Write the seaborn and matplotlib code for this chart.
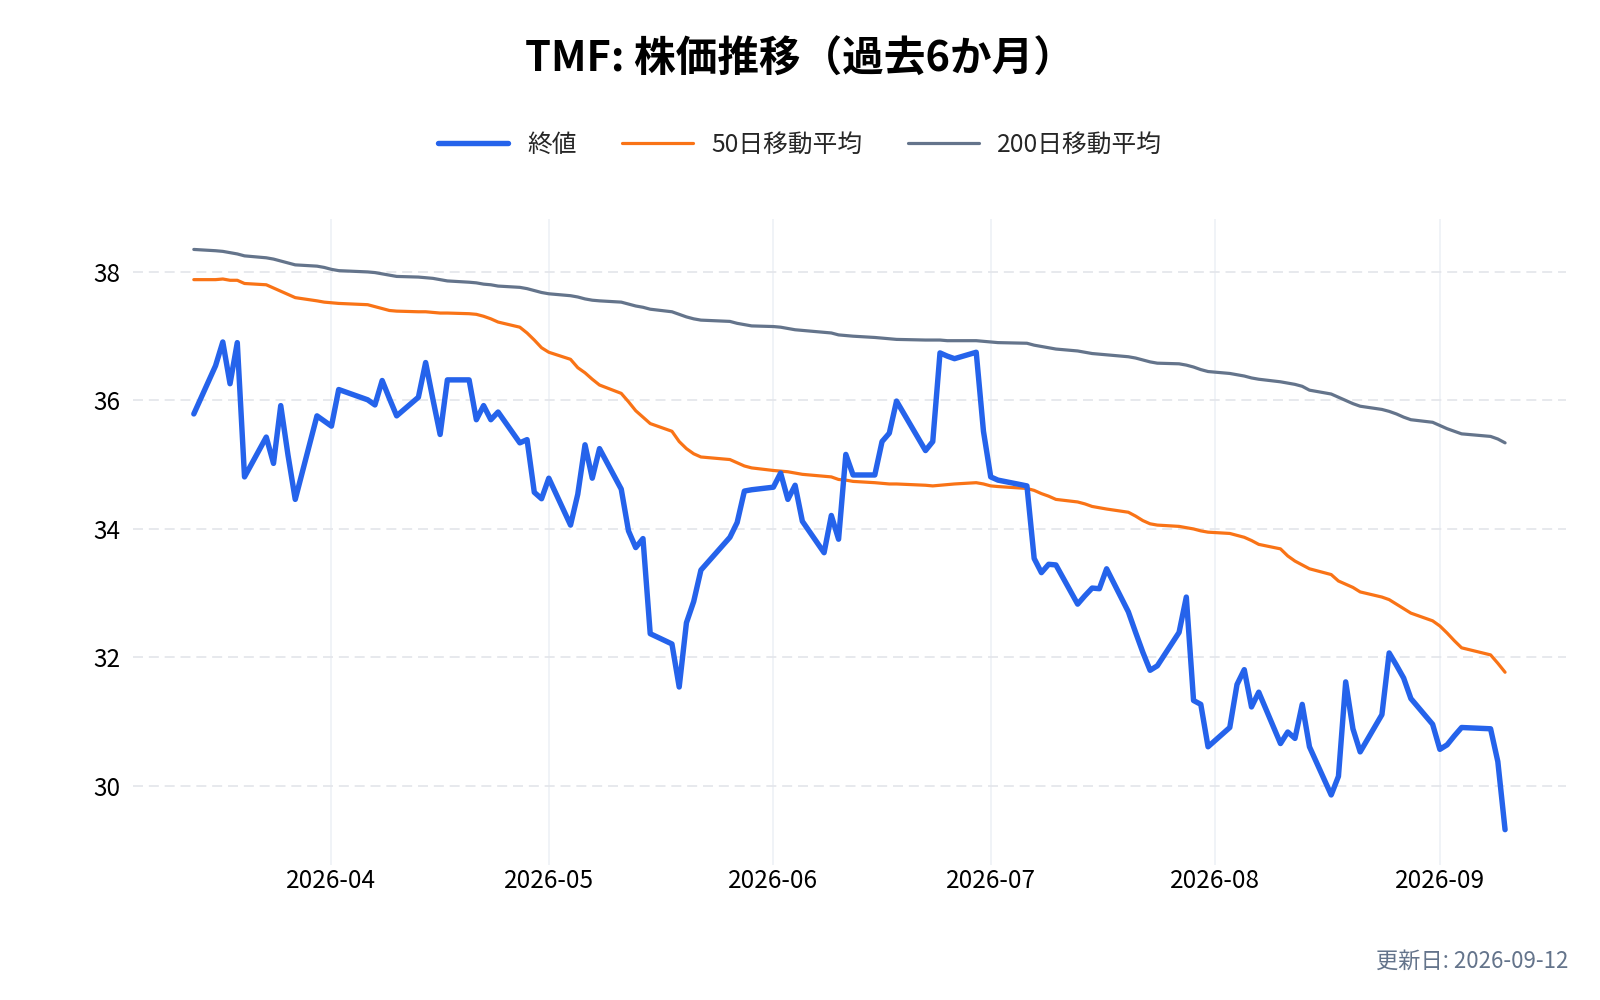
# TMF price chart (last 6 months) - close with 50/200 day moving averages
import pandas as pd
import matplotlib.pyplot as plt
import matplotlib.dates as mdates
import seaborn as sns

# --- DATA ---
dates = [
    # March
    "2026-03-13", "2026-03-16", "2026-03-17", "2026-03-18", "2026-03-19", "2026-03-20",
    "2026-03-23", "2026-03-24", "2026-03-25", "2026-03-26", "2026-03-27", "2026-03-30", "2026-03-31",
    # April
    "2026-04-01", "2026-04-02", "2026-04-06", "2026-04-07", "2026-04-08", "2026-04-09", "2026-04-10",
    "2026-04-13", "2026-04-14", "2026-04-15", "2026-04-16", "2026-04-17", "2026-04-20", "2026-04-21",
    "2026-04-22", "2026-04-23", "2026-04-24", "2026-04-27", "2026-04-28", "2026-04-29", "2026-04-30",
    # May
    "2026-05-01", "2026-05-04", "2026-05-05", "2026-05-06", "2026-05-07", "2026-05-08", "2026-05-11",
    "2026-05-12", "2026-05-13", "2026-05-14", "2026-05-15", "2026-05-18", "2026-05-19", "2026-05-20",
    "2026-05-21", "2026-05-22", "2026-05-26", "2026-05-27", "2026-05-28", "2026-05-29",
    # June
    "2026-06-01", "2026-06-02", "2026-06-03", "2026-06-04", "2026-06-05", "2026-06-08", "2026-06-09",
    "2026-06-10", "2026-06-11", "2026-06-12", "2026-06-15", "2026-06-16", "2026-06-17", "2026-06-18",
    "2026-06-22", "2026-06-23", "2026-06-24", "2026-06-25", "2026-06-26", "2026-06-29", "2026-06-30",
    # July
    "2026-07-01", "2026-07-02", "2026-07-06", "2026-07-07", "2026-07-08", "2026-07-09", "2026-07-10",
    "2026-07-13", "2026-07-14", "2026-07-15", "2026-07-16", "2026-07-17", "2026-07-20", "2026-07-21",
    "2026-07-22", "2026-07-23", "2026-07-24", "2026-07-27", "2026-07-28", "2026-07-29", "2026-07-30",
    "2026-07-31",
    # August
    "2026-08-03", "2026-08-04", "2026-08-05", "2026-08-06", "2026-08-07", "2026-08-10", "2026-08-11",
    "2026-08-12", "2026-08-13", "2026-08-14", "2026-08-17", "2026-08-18", "2026-08-19", "2026-08-20",
    "2026-08-21", "2026-08-24", "2026-08-25", "2026-08-26", "2026-08-27", "2026-08-28", "2026-08-31",
    # September
    "2026-09-01", "2026-09-02", "2026-09-03", "2026-09-04", "2026-09-08", "2026-09-09", "2026-09-10",
]

close = [
    35.79, 36.54, 36.91, 36.26, 36.90, 34.81, 35.43, 35.02, 35.92, 35.15, 34.46, 35.76, 35.68,
    35.60, 36.17, 36.01, 35.93, 36.31, 36.03, 35.76, 36.05, 36.59, 36.02, 35.47, 36.32, 36.32,
    35.70, 35.92, 35.70, 35.82, 35.34, 35.39, 34.57, 34.47,
    34.79, 34.06, 34.54, 35.31, 34.79, 35.25, 34.62, 33.97, 33.71, 33.85, 32.37, 32.21, 31.54,
    32.54, 32.87, 33.36, 33.87, 34.10, 34.59, 34.61,
    34.65, 34.87, 34.46, 34.68, 34.12, 33.63, 34.21, 33.84, 35.16, 34.84, 34.84, 35.36, 35.49,
    35.99, 35.22, 35.36, 36.74, 36.69, 36.65, 36.75, 35.52,
    34.81, 34.76, 34.67, 33.54, 33.32, 33.45, 33.44, 32.83, 32.96, 33.08, 33.07, 33.38, 32.71,
    32.39, 32.08, 31.80, 31.87, 32.39, 32.94, 31.33, 31.27, 30.61,
    30.91, 31.58, 31.81, 31.23, 31.46, 30.66, 30.84, 30.74, 31.27, 30.61, 29.86, 30.15, 31.62,
    30.89, 30.53, 31.11, 32.07, 31.88, 31.68, 31.36, 30.96,
    30.57, 30.64, 30.78, 30.91, 30.89, 30.38, 29.32,
]

ma50 = [
    37.88, 37.88, 37.89, 37.87, 37.87, 37.82, 37.80, 37.75, 37.70, 37.65, 37.60, 37.55, 37.53,
    37.52, 37.51, 37.49, 37.46, 37.43, 37.40, 37.39, 37.38, 37.38, 37.37, 37.36, 37.36, 37.35,
    37.34, 37.31, 37.27, 37.22, 37.14, 37.05, 36.94, 36.82,
    36.75, 36.64, 36.51, 36.43, 36.33, 36.24, 36.11, 35.98, 35.84, 35.74, 35.64, 35.52, 35.36,
    35.25, 35.17, 35.12, 35.08, 35.03, 34.98, 34.95,
    34.91, 34.90, 34.89, 34.87, 34.85, 34.82, 34.81, 34.77, 34.76, 34.74, 34.72, 34.71, 34.70,
    34.70, 34.68, 34.67, 34.68, 34.69, 34.70, 34.72, 34.70,
    34.67, 34.66, 34.63, 34.60, 34.55, 34.51, 34.46, 34.42, 34.39, 34.35, 34.33, 34.31, 34.26,
    34.20, 34.13, 34.08, 34.06, 34.04, 34.02, 34.00, 33.97, 33.95,
    33.93, 33.90, 33.87, 33.82, 33.76, 33.69, 33.58, 33.50, 33.44, 33.38, 33.29, 33.19, 33.14,
    33.09, 33.02, 32.94, 32.90, 32.83, 32.76, 32.69, 32.57,
    32.49, 32.38, 32.26, 32.15, 32.04, 31.91, 31.77,
]

ma200 = [
    38.35, 38.33, 38.32, 38.30, 38.28, 38.25, 38.22, 38.20, 38.17, 38.14, 38.11, 38.09, 38.07,
    38.04, 38.02, 38.00, 37.99, 37.97, 37.95, 37.93, 37.92, 37.91, 37.90, 37.88, 37.86, 37.84,
    37.83, 37.81, 37.80, 37.78, 37.76, 37.74, 37.71, 37.68,
    37.66, 37.63, 37.61, 37.58, 37.56, 37.55, 37.53, 37.50, 37.47, 37.45, 37.42, 37.38, 37.34,
    37.30, 37.27, 37.25, 37.23, 37.20, 37.18, 37.16,
    37.15, 37.14, 37.12, 37.10, 37.09, 37.06, 37.05, 37.02, 37.01, 37.00, 36.98, 36.97, 36.96,
    36.95, 36.94, 36.94, 36.94, 36.93, 36.93, 36.93, 36.92,
    36.91, 36.90, 36.89, 36.86, 36.84, 36.82, 36.80, 36.77, 36.75, 36.73, 36.72, 36.71, 36.68,
    36.66, 36.63, 36.60, 36.58, 36.57, 36.55, 36.52, 36.48, 36.45,
    36.42, 36.40, 36.38, 36.35, 36.33, 36.29, 36.27, 36.25, 36.22, 36.16, 36.10, 36.05, 36.00,
    35.95, 35.91, 35.86, 35.83, 35.79, 35.74, 35.70, 35.66,
    35.61, 35.56, 35.52, 35.48, 35.44, 35.40, 35.34,
]

y_ticks = [30, 32, 34, 36, 38]

title = "TMF: 株価推移（過去6か月）"
labels = ["終値", "50日移動平均", "200日移動平均"]
updated = "更新日: 2026-09-12"

df = pd.DataFrame({
    "date": pd.to_datetime(dates),
    "close": close,
    "ma50": ma50,
    "ma200": ma200,
})

# --- STYLE ---
sns.set_theme(style="white")
plt.rcParams["font.family"] = ["Noto Sans CJK JP", "DejaVu Sans"]

BLUE = "#2563eb"
ORANGE = "#f97316"
SLATE = "#64748b"

fig = plt.figure(figsize=(16, 10), dpi=100)
ax = fig.add_axes([0.0831, 0.135, 0.8956, 0.6464])

# moving averages first, close on top
sns.lineplot(data=df, x="date", y="ma200", ax=ax, color=SLATE, linewidth=2.3, label=labels[2])
sns.lineplot(data=df, x="date", y="ma50", ax=ax, color=ORANGE, linewidth=2.3, label=labels[1])
sns.lineplot(data=df, x="date", y="close", ax=ax, color=BLUE, linewidth=3.9, label=labels[0])

# axes range with a little padding like the original
pad = pd.Timedelta(days=8.4)
ax.set_xlim(df["date"].min() - pad, df["date"].max() + pad)
ax.set_ylim(28.77, 38.83)
ax.set_yticks(y_ticks)

ax.xaxis.set_major_locator(mdates.MonthLocator())
ax.xaxis.set_major_formatter(mdates.DateFormatter("%Y-%m"))

ax.set_xlabel("")
ax.set_ylabel("")
for s in ax.spines.values():
    s.set_visible(False)

ax.tick_params(axis="both", length=0, labelsize=17.5, colors="#000000")
ax.tick_params(axis="x", pad=2.5)
ax.tick_params(axis="y", pad=9)

ax.yaxis.grid(True, color="#e3e5ea", linewidth=1.2, linestyle=(0, (6, 3.5)))
ax.xaxis.grid(True, color="#eef1f6", linewidth=1.2)
ax.set_axisbelow(True)

# legend on top, centred, no frame
handles, _ = ax.get_legend_handles_labels()
ax.get_legend().remove()
order = [2, 1, 0]
fig.legend([handles[i] for i in order], labels, loc="center", bbox_to_anchor=(0.5, 0.855),
           ncol=3, frameon=False, fontsize=17.8, handlelength=2.85, handletextpad=0.75,
           columnspacing=1.85)

fig.text(0.5, 0.94, title, ha="center", va="center", fontsize=30, fontweight="bold",
         color="#000000")
fig.text(0.98, 0.0384, updated, ha="right", va="center", fontsize=16, color=SLATE)

fig.savefig("out.png", dpi=100)
print("saved out.png")
